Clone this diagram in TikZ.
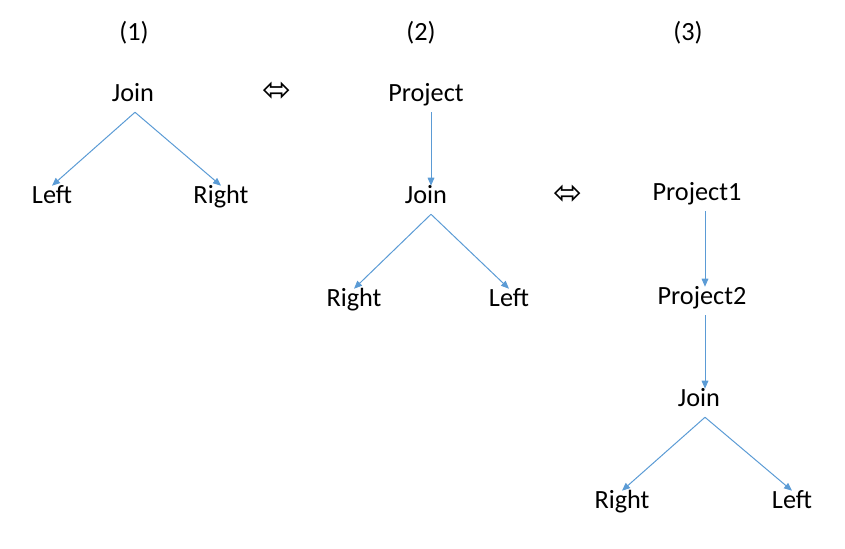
\documentclass[tikz,border=0pt]{standalone}
\usepackage{fontspec}
\setmainfont{Carlito}
\newfontfamily\symfont{DejaVu Sans}
\usepackage{tikz}
\usetikzlibrary{arrows.meta}
\definecolor{edgeblue}{RGB}{91,155,213}

\begin{document}
\begin{tikzpicture}[x=0.75pt, y=-0.75pt,
    label/.style={font=\fontsize{19.7}{22}\selectfont, text height=0.75em,
                  text depth=0.25em, inner xsep=2pt, inner ysep=5.5pt},
    equiv/.style={font=\symfont\fontsize{26}{28}\selectfont, inner sep=0pt},
    link/.style={draw=edgeblue, line width=0.75pt,
                 -{Triangle[length=6pt, width=5pt]}}]
    \useasboundingbox (0,0) rectangle (845,549);

    % column titles
    \node[label] (t1) at (134,37) {(1)};
    \node[label] (t2) at (421,37) {(2)};
    \node[label] (t3) at (688,37) {(3)};

    % tree (1)
    \coordinate (spine1) at (135,0);
    \node[label] (join1)  at (133,98)  {Join};
    \node[label] (left1)  at (52,200)  {Left};
    \node[label] (right1) at (221,200) {Right};
    \draw[link] (join1.south -| spine1) -- (left1.north);
    \draw[link] (join1.south -| spine1) -- (right1.north);

    \node[equiv] (eq1) at (277,92) {⬄};

    % tree (2)
    \coordinate (spine2) at (431,0);
    \node[label] (proj2)  at (426,98)  {Project};
    \node[label] (join2)  at (426,200) {Join};
    \node[label] (right2) at (354,303) {Right};
    \node[label] (left2)  at (509,303) {Left};
    \draw[link] (proj2.south -| spine2) -- (join2.north -| spine2);
    \draw[link] (join2.south -| spine2) -- (right2.north);
    \draw[link] (join2.south -| spine2) -- (left2.north);

    \node[equiv] (eq2) at (568,195) {⬄};

    % tree (3)
    \coordinate (spine3) at (705,0);
    \node[label] (proj31) at (697,197) {Project1};
    \node[label] (proj32) at (702,301) {Project2};
    \node[label] (join3)  at (699,403) {Join};
    \node[label] (right3) at (622,505) {Right};
    \node[label] (left3)  at (792,505) {Left};
    \draw[link] (proj31.south -| spine3) -- (proj32.north -| spine3);
    \draw[link] (proj32.south -| spine3) -- (join3.north -| spine3);
    \draw[link] (join3.south -| spine3) -- (right3.north);
    \draw[link] (join3.south -| spine3) -- (left3.north);
\end{tikzpicture}
\end{document}
